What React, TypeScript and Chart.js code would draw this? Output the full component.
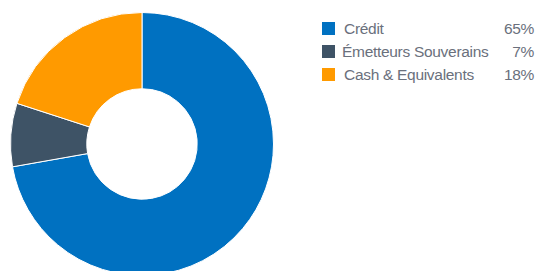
import React, { useEffect, useRef } from "react";
import { Chart, registerables } from "chart.js";

Chart.register(...registerables);

const categories = ["Crédit", "Émetteurs Souverains", "Cash & Equivalents"];
const values = [65, 7, 18];
const percentLabels = ["65%", "7%", "18%"];
const colors = ["#0071C1", "#3E5366", "#FF9A00"];

const textColor = "#6a707c";
const font = "'Liberation Sans', Arial, Helvetica, sans-serif";

export default function App() {
  const ref = useRef<HTMLCanvasElement | null>(null);

  useEffect(() => {
    if (!ref.current) return;
    const chart = new Chart(ref.current, {
      type: "doughnut",
      data: {
        labels: categories,
        datasets: [
          {
            data: values,
            backgroundColor: colors,
            borderColor: "#ffffff",
            borderWidth: 1,
          },
        ],
      },
      options: {
        responsive: false,
        animation: false,
        cutout: "42%",
        layout: { padding: 0 },
        plugins: {
          legend: { display: false },
          tooltip: { enabled: false },
        },
      },
    });
    return () => chart.destroy();
  }, []);

  return (
    <div
      style={{
        position: "fixed",
        left: 0,
        top: 0,
        width: 539,
        height: 271,
        overflow: "hidden",
        background: "#ffffff",
        fontFamily: font,
      }}
    >
      <canvas
        ref={ref}
        width={264}
        height={264}
        style={{ position: "absolute", left: 10, top: 12, width: 264, height: 264 }}
      />
      {categories.map((c, i) => (
        <div
          key={c}
          style={{
            position: "absolute",
            left: 322,
            top: 20 + i * 23,
            width: 212,
            height: 18,
            color: textColor,
            fontSize: 15.5,
            letterSpacing: "-0.3px",
            lineHeight: "18px",
          }}
        >
          <span
            style={{
              position: "absolute",
              left: 0,
              top: 2,
              width: 13,
              height: 13,
              background: colors[i],
            }}
          />
          <span style={{ position: "absolute", left: i === 1 ? 20 : 22, top: 0, whiteSpace: "nowrap" }}>{c}</span>
          <span style={{ position: "absolute", right: 0, top: 0, whiteSpace: "nowrap" }}>{percentLabels[i]}</span>
        </div>
      ))}
    </div>
  );
}
